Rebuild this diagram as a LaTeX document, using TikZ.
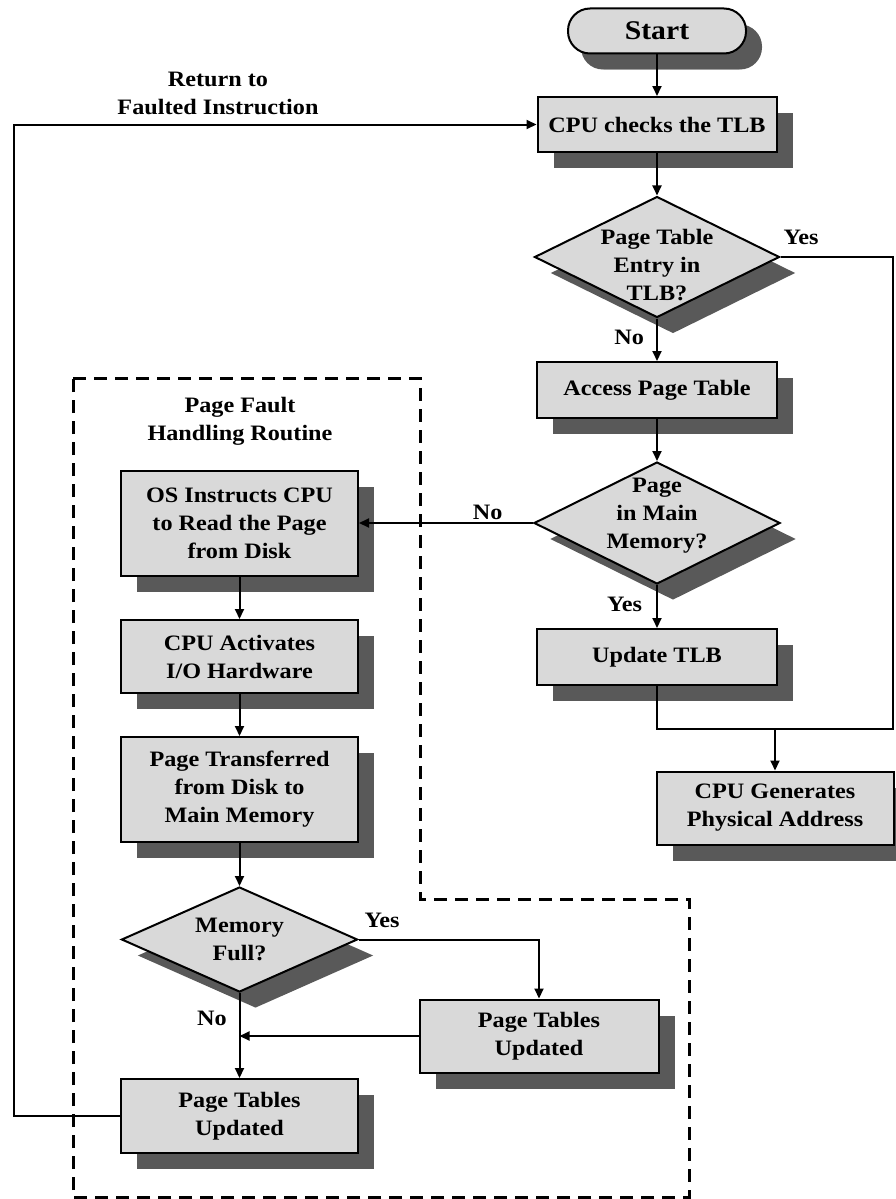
\documentclass[tikz,border=0pt]{standalone}
\usepackage{fontspec}
\newfontfamily\figfont[FakeStretch=1.1]{Liberation Serif}
\usetikzlibrary{arrows.meta,shapes.geometric,shadows}
\definecolor{boxfill}{HTML}{D9D9D9}
\definecolor{shadowgray}{HTML}{595959}
\begin{document}
\begin{tikzpicture}[x=1pt,y=-1pt,
  txt/.style={font=\figfont\bfseries\fontsize{22}{28}\selectfont,align=center},
  shade/.style={drop shadow={shadow xshift=16pt,shadow yshift=-16pt,fill=shadowgray,opacity=1}},
  procbox/.style={txt,shade,draw=black,line width=2pt,fill=boxfill,inner sep=0pt},
  decision/.style={shade,diamond,draw=black,line width=2pt,fill=boxfill,inner sep=0pt},
  conn/.style={line width=2pt,-{Triangle[length=10pt,width=9pt]}},
  plain/.style={line width=2pt},
  lbl/.style={txt,inner sep=0pt}]
\useasboundingbox (0,0) rectangle (895,1199);

% subroutine frame
\draw[line width=3pt,dash pattern=on 13pt off 8pt]
  (73,378) -- (420,378) -- (420,899) -- (689,899) -- (689,1197) -- (73,1197) -- cycle;

% main path
\node[procbox,rounded corners=22pt,minimum width=178pt,minimum height=45pt,
      font=\figfont\bfseries\fontsize{27}{30}\selectfont,
      drop shadow={shadow xshift=13pt,shadow yshift=-16pt,fill=shadowgray,opacity=1}]
  (start) at (657,31) {Start};
\node[procbox,minimum width=239pt,minimum height=55pt] (cpu) at (657,124.5) {CPU checks the TLB};
\node[decision,minimum width=245pt,minimum height=121pt,
      label={[lbl,yshift=-8pt]center:Page Table\\Entry in\\TLB?}] (d1) at (657,257) {};
\node[procbox,minimum width=240pt,minimum height=56pt] (access) at (657,390) {Access Page Table};
\node[decision,minimum width=246pt,minimum height=122pt,
      label={[lbl,yshift=7pt]center:Page\\in Main\\Memory?}] (d2) at (657,523) {};
\node[procbox,minimum width=240pt,minimum height=56pt] (update) at (657,657) {Update TLB};
\node[procbox,minimum width=237pt,minimum height=73pt] (gen) at (775,808) {CPU Generates\\Physical Address};

% page fault handling routine
\node[lbl] (pfh) at (240,421) {Page Fault\\Handling Routine};
\node[procbox,minimum width=237pt,minimum height=105pt] (os) at (239.5,523) {OS Instructs CPU\\to Read the Page\\from Disk};
\node[procbox,minimum width=237pt,minimum height=73pt] (act) at (239.5,656.5) {CPU Activates\\I/O Hardware};
\node[procbox,minimum width=237pt,minimum height=105pt] (trans) at (239.5,789.5) {Page Transferred\\from Disk to\\Main Memory};
\node[decision,minimum width=236pt,minimum height=105pt,
      label={[lbl]center:Memory\\Full?}] (d3) at (239.5,939.5) {};
\node[procbox,minimum width=239pt,minimum height=73pt] (ptr) at (539,1036) {Page Tables\\Updated};
\node[procbox,minimum width=237pt,minimum height=74pt] (ptb) at (239.5,1116) {Page Tables\\Updated};

\node[lbl] (ret) at (218,93) {Return to\\Faulted Instruction};

% connectors on the main path
\draw[conn] (start) -- (cpu);
\draw[conn] (cpu) -- (d1);
\draw[conn] (d1.south) -- node[lbl,pos=0.45,left=12pt] (no1) {No} (access.north);
\draw[conn] (access) -- (d2.north);
\draw[conn] (d2.south) -- node[lbl,pos=0.45,left=14pt] (yes2) {Yes} (update.north);
\coordinate (rx) at (893,729);
\coordinate (jn) at (gen.north |- rx);
\draw[plain] (d1.east) -| (rx) -- (jn);
\node[lbl] (yes1) at (801,237) {Yes};
\draw[plain] (update.south) |- (jn);
\draw[conn] (jn) -- (gen.north);

% page fault branch
\draw[conn] (d2.west) -- node[lbl,above=2pt,pos=0.26] (no2) {No} (os.east);
\draw[conn] (os) -- (act);
\draw[conn] (act) -- (trans);
\draw[conn] (trans.south) -- (d3.north);
\draw[conn] (d3.east) -| (ptr.north);
\node[lbl] (yes3) at (382,920) {Yes};
\draw[conn] (d3.south) -- (ptb.north);
\node[lbl] (no3) at (212,1018) {No};
\coordinate (mg) at (d3.south |- ptr.west);
\draw[conn] (ptr.west) -- (mg);

% return to the faulted instruction
\coordinate (lx) at (14,1116);
\draw[conn] (ptb.west) -- (lx) |- (cpu.west);
\end{tikzpicture}
\end{document}
